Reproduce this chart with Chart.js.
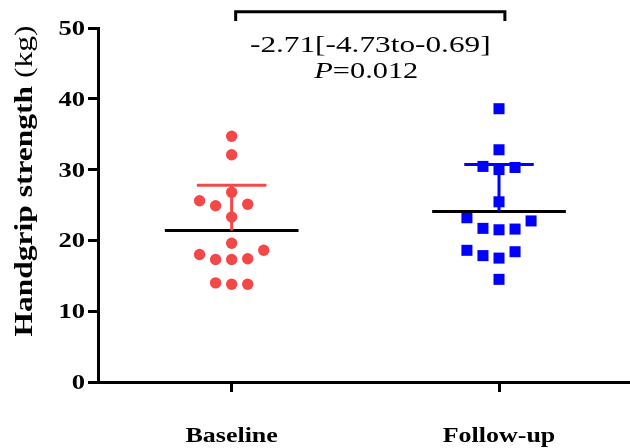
<!DOCTYPE html>
<html>
<head>
<meta charset="utf-8">
<script src="https://cdn.jsdelivr.net/npm/chart.js@4.4.0/dist/chart.umd.min.js"></script>
<style>
  html, body { margin: 0; padding: 0; background: #fff; }
</style>
</head>
<body>
<canvas id="grafico" width="630" height="448"></canvas>
<script>
const groups = ["Baseline", "Follow-up"];
const baselineValues = [34.7, 32.1, 26.8, 25.6, 24.9, 25.1, 23.3, 19.6, 18.0, 17.3, 17.3, 17.4, 18.6, 14.0, 13.8, 13.8];
const baselineSlots = [0, 0, 0, -2, -1, 1, 0, 0, -2, -1, 0, 1, 2, -1, 0, 1];
const followUpValues = [38.6, 32.8, 30.45, 30.0, 30.3, 25.45, 23.2, 22.75, 21.7, 21.5, 21.6, 18.6, 17.85, 17.5, 18.4, 14.5];
const followUpSlots = [0, 0, -1, 0, 1, 0, -2, 2, -1, 0, 1, -2, -1, 0, 1, 0];
const yTicks = [0, 10, 20, 30, 40, 50];
const yTitle = "Handgrip strength";
const yUnit = "(kg)";
const diffText = "-2.71[-4.73to-0.69]";
const pText = "=0.012";

const RED = "#f24848";
const BLUE = "#0000ff";
const SLOT = 0.06;
const SERIF = "'Liberation Serif', 'Times New Roman', Times, serif";

function mean(arr) {
  return arr.reduce((a, b) => a + b, 0) / arr.length;
}

function sd(arr) {
  const m = mean(arr);
  return Math.sqrt(arr.reduce((a, b) => a + (b - m) ** 2, 0) / (arr.length - 1));
}

function points(values, slots, group) {
  return values.map((v, i) => ({ x: group + slots[i] * SLOT, y: v }));
}

function lineSet(data, color) {
  return {
    type: "line",
    data,
    borderColor: color,
    borderWidth: 3,
    pointRadius: 0,
    fill: false,
    order: 0
  };
}

function summarySets(values, group, color) {
  const m = mean(values);
  const s = sd(values);
  return [
    lineSet([{ x: group, y: m }, { x: group, y: m + s }], color),
    lineSet([{ x: group - 0.13, y: m + s }, { x: group + 0.13, y: m + s }], color),
    lineSet([{ x: group - 0.25, y: m }, { x: group + 0.25, y: m }], "#000")
  ];
}

// text in the figure is drawn wide, like the original export
function wideText(c, text, x, y, font, sx, align) {
  c.save();
  c.translate(x, y);
  c.scale(sx, 1);
  c.font = font;
  c.textAlign = align;
  c.fillText(text, 0, 0);
  c.restore();
}

const labelsPlugin = {
  id: "labels",
  afterDraw(chart) {
    const c = chart.ctx;
    const xs = chart.scales.x;
    const ys = chart.scales.y;
    const area = chart.chartArea;
    c.fillStyle = "#000";
    c.textBaseline = "alphabetic";

    yTicks.forEach(v => {
      wideText(c, String(v), area.left - 13, ys.getPixelForValue(v) + 7, "bold 20px " + SERIF, 1.33, "right");
    });

    groups.forEach((g, i) => {
      wideText(c, g, xs.getPixelForValue(i + 1), 442, "bold 22px " + SERIF, 1.18, "center");
    });

    // y title, rotated
    c.save();
    c.translate(32, 181);
    c.rotate(-Math.PI / 2);
    c.scale(1.26, 1);
    c.font = "bold 25px " + SERIF;
    const w1 = c.measureText(yTitle + " ").width;
    c.font = "25px " + SERIF;
    const w2 = c.measureText(yUnit).width;
    c.textAlign = "left";
    c.font = "bold 25px " + SERIF;
    c.fillText(yTitle + " ", -(w1 + w2) / 2, 0);
    c.font = "25px " + SERIF;
    c.fillText(yUnit, -(w1 + w2) / 2 + w1, 0);
    c.restore();

    // comparison bracket
    const x1 = xs.getPixelForValue(1.015);
    const x2 = xs.getPixelForValue(2.022);
    const top = ys.getPixelForValue(52.3);
    const foot = ys.getPixelForValue(51.0);
    c.save();
    c.strokeStyle = "#000";
    c.lineWidth = 3;
    c.beginPath();
    c.moveTo(x1, foot);
    c.lineTo(x1, top);
    c.lineTo(x2, top);
    c.lineTo(x2, foot);
    c.stroke();
    c.restore();

    const mid = (x1 + x2) / 2;
    wideText(c, diffText, mid, top + 40, "23px " + SERIF, 1.36, "center");

    c.save();
    c.font = "23px " + SERIF;
    const wp = c.measureText(pText).width;
    c.font = "italic 23px " + SERIF;
    const wi = c.measureText("P").width;
    c.restore();
    const startP = mid - 4 - (wi + wp) * 1.32 / 2;
    wideText(c, "P", startP, top + 66, "italic 23px " + SERIF, 1.32, "left");
    wideText(c, pText, startP + wi * 1.32, top + 66, "23px " + SERIF, 1.32, "left");
  }
};

const axisStyle = {
  grid: {
    drawOnChartArea: false,
    drawTicks: true,
    tickLength: 10,
    color: "#000",
    lineWidth: 3
  },
  border: { color: "#000", width: 3 },
  ticks: { display: false }
};

new Chart(document.getElementById("grafico"), {
  type: "scatter",
  data: {
    datasets: [
      ...summarySets(baselineValues, 1, RED),
      ...summarySets(followUpValues, 2, BLUE),
      {
        label: groups[0],
        data: points(baselineValues, baselineSlots, 1),
        pointStyle: "circle",
        pointRadius: 5.7,
        pointHoverRadius: 5.7,
        backgroundColor: RED,
        borderWidth: 0,
        order: 1
      },
      {
        label: groups[1],
        data: points(followUpValues, followUpSlots, 2),
        pointStyle: "rect",
        pointRadius: 7.8,
        pointHoverRadius: 7.8,
        backgroundColor: BLUE,
        borderWidth: 0,
        order: 1
      }
    ]
  },
  options: {
    responsive: false,
    animation: false,
    devicePixelRatio: 1,
    layout: { autoPadding: false, padding: { top: 28, right: 0, left: 0, bottom: 0 } },
    plugins: {
      legend: { display: false },
      tooltip: { enabled: false }
    },
    scales: {
      x: {
        type: "linear",
        min: 0.5,
        max: 2.49,
        ...axisStyle,
        afterBuildTicks: s => { s.ticks = [{ value: 1 }, { value: 2 }]; },
        afterFit: s => { s.height = 66; }
      },
      y: {
        min: 0,
        max: 50,
        ...axisStyle,
        afterBuildTicks: s => { s.ticks = yTicks.map(v => ({ value: v })); },
        afterFit: s => { s.width = 98; }
      }
    }
  },
  plugins: [labelsPlugin]
});
</script>
</body>
</html>
